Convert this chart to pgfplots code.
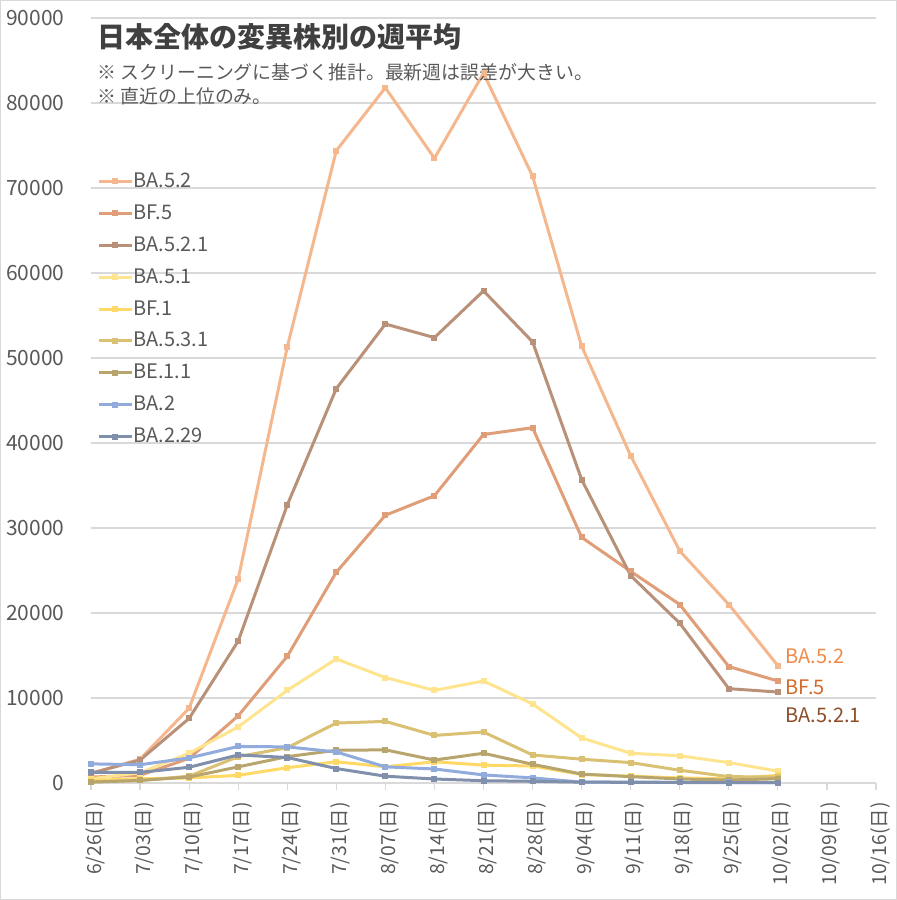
\documentclass[border=0pt]{standalone}
\usepackage{pgfplots}
\pgfplotsset{compat=1.18}
\usepackage{fontspec}
\setmainfont{Noto Sans CJK JP}
\definecolor{gridc}{HTML}{D9D9D9}
\definecolor{tickc}{HTML}{595959}
\definecolor{titlec}{HTML}{404040}
\definecolor{cA}{HTML}{F5B78E}\definecolor{mA}{HTML}{EE8447}
\definecolor{cB}{HTML}{E09E78}\definecolor{mB}{HTML}{D06A2A}
\definecolor{cC}{HTML}{B99179}\definecolor{mC}{HTML}{8E4C22}
\definecolor{cD}{HTML}{FFE48F}\definecolor{mD}{HTML}{FFD966}
\definecolor{cE}{HTML}{FFD966}\definecolor{mE}{HTML}{FFC000}
\definecolor{cF}{HTML}{D9C072}\definecolor{mF}{HTML}{BF9000}
\definecolor{cG}{HTML}{B8A56E}\definecolor{mG}{HTML}{7F6000}
\definecolor{cH}{HTML}{91ABDC}\definecolor{mH}{HTML}{2F5597}
\definecolor{cI}{HTML}{808FAC}\definecolor{mI}{HTML}{1F3864}
\definecolor{lA}{HTML}{F08A48}\definecolor{lB}{HTML}{D36A2A}\definecolor{lC}{HTML}{8B4E28}
\begin{document}
\begin{tikzpicture}
\path[use as bounding box] (-45.5pt,-58.5pt) rectangle (403pt,391.5pt);
\draw[color=gridc, line width=0.6pt] (-45.2pt,-58.2pt) rectangle (402.7pt,391.2pt);
\begin{axis}[
  at={(0,0)}, anchor=south west,
  width=392.5pt, height=382.5pt, scale only axis,
  xmin=0, xmax=16, ymin=0, ymax=90000,
  clip=false,
  xtick={0,...,16},
  xticklabels={6/26(日),7/03(日),7/10(日),7/17(日),7/24(日),7/31(日),8/07(日),8/14(日),8/21(日),8/28(日),9/04(日),9/11(日),9/18(日),9/25(日),10/02(日),10/09(日),10/16(日)},
  ytick={0,10000,...,90000},
  scaled ticks=false,
  /pgf/number format/assume math mode=true,
  /pgf/number format/set thousands separator={},
  font=\fontsize{10}{12}\selectfont,
  ticklabel style={color=tickc},
  yticklabel style={font=\fontsize{10.5}{12}\selectfont, anchor=east, inner sep=0pt},
  xticklabel style={font=\fontsize{9.7}{12}\selectfont, xshift=2pt, rotate=90, anchor=east, inner sep=0pt},
  xticklabel shift=6pt,
  yticklabel shift=9.5pt,
  axis x line*=bottom, axis y line*=left,
  x axis line style={draw=gridc, line width=0.6pt},
  y axis line style={draw=none},
  ytick style={draw=none},
  xtick style={draw=gridc, line width=0.6pt},
  tick align=outside, major tick length=3.5pt,
  ymajorgrids, grid style={draw=gridc, line width=0.6pt},
  every axis plot/.append style={line width=1.5pt, mark=square*, mark size=0.75pt},
  legend cell align=left,
  legend style={at={(0.0076,0.7987)}, anchor=north west, draw=none, fill=none,
    inner sep=0pt, row sep=6.95pt, font=\fontsize{10}{12}\selectfont, text=tickc,
    nodes={inner sep=0pt, text height=7.5pt, text depth=1.5pt}},
  legend image code/.code={\draw[#1, mark=none] (0pt,0pt) -- (16.5pt,0pt); \draw[#1] plot coordinates {(8.25pt,0pt)};},
  /tikz/every even column/.append style={column sep=1pt},
]
\addplot[color=cA, mark options={draw=none, fill=mA}] coordinates {(0,1100)(1,2800)(2,8800)(3,24000)(4,51300)(5,74400)(6,81800)(7,73500)(8,83500)(9,71400)(10,51400)(11,38500)(12,27300)(13,21000)(14,13800)};
\addlegendentry{BA.5.2}
\addplot[color=cB, mark options={draw=none, fill=mB}] coordinates {(0,700)(1,900)(2,2900)(3,7900)(4,14900)(5,24800)(6,31500)(7,33800)(8,41000)(9,41800)(10,28900)(11,24900)(12,21000)(13,13700)(14,12000)};
\addlegendentry{BF.5}
\addplot[color=cC, mark options={draw=none, fill=mC}] coordinates {(0,1150)(1,2700)(2,7600)(3,16700)(4,32700)(5,46400)(6,54000)(7,52400)(8,57900)(9,51900)(10,35700)(11,24400)(12,18800)(13,11100)(14,10700)};
\addlegendentry{BA.5.2.1}
\addplot[color=cD, mark options={draw=none, fill=mD}] coordinates {(0,500)(1,1200)(2,3500)(3,6600)(4,10900)(5,14600)(6,12400)(7,10900)(8,12000)(9,9300)(10,5300)(11,3500)(12,3200)(13,2400)(14,1400)};
\addlegendentry{BA.5.1}
\addplot[color=cE, mark options={draw=none, fill=mE}] coordinates {(0,300)(1,500)(2,600)(3,900)(4,1800)(5,2500)(6,1900)(7,2500)(8,2100)(9,2000)(10,1000)(11,800)(12,600)(13,500)(14,900)};
\addlegendentry{BF.1}
\addplot[color=cF, mark options={draw=none, fill=mF}] coordinates {(0,150)(1,300)(2,800)(3,3100)(4,4150)(5,7050)(6,7250)(7,5600)(8,6000)(9,3300)(10,2800)(11,2400)(12,1500)(13,750)(14,700)};
\addlegendentry{BA.5.3.1}
\addplot[color=cG, mark options={draw=none, fill=mG}] coordinates {(0,100)(1,300)(2,700)(3,1900)(4,3100)(5,3850)(6,3900)(7,2700)(8,3500)(9,2200)(10,1050)(11,750)(12,470)(13,350)(14,500)};
\addlegendentry{BE.1.1}
\addplot[color=cH, mark options={draw=none, fill=mH}] coordinates {(0,2250)(1,2150)(2,2950)(3,4300)(4,4250)(5,3650)(6,1900)(7,1650)(8,950)(9,600)(10,100)(11,100)(12,80)(13,60)(14,50)};
\addlegendentry{BA.2}
\addplot[color=cI, mark options={draw=none, fill=mI}] coordinates {(0,1250)(1,1250)(2,1850)(3,3300)(4,3000)(5,1700)(6,800)(7,470)(8,270)(9,200)(10,100)(11,80)(12,60)(13,50)(14,40)};
\addlegendentry{BA.2.29}
\node[anchor=west, inner sep=0pt, text=titlec, font=\fontsize{14}{17}\bfseries] at (axis cs:0.122,87740) {日本全体の変異株別の週平均};
\node[anchor=west, inner sep=0pt, text=tickc, font=\fontsize{9.45}{11}\selectfont] at (axis cs:0.122,83620) {※ スクリーニングに基づく推計。最新週は誤差が大きい。};
\node[anchor=west, inner sep=0pt, text=tickc, font=\fontsize{9.45}{11}\selectfont] at (axis cs:0.122,80800) {※ 直近の上位のみ。};
\node[anchor=west, inner sep=0pt, text=lA] at (axis cs:14.15,14940) {BA.5.2};
\node[anchor=west, inner sep=0pt, text=lB] at (axis cs:14.15,11290) {BF.5};
\node[anchor=west, inner sep=0pt, text=lC] at (axis cs:14.15,8000) {BA.5.2.1};
\end{axis}
\end{tikzpicture}
\end{document}
